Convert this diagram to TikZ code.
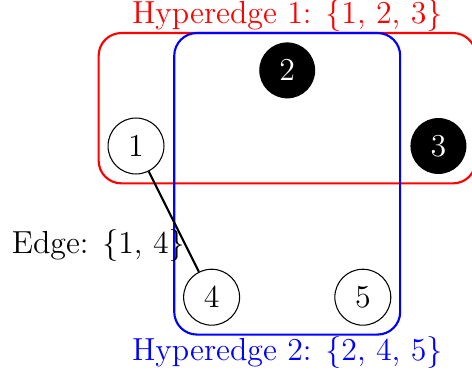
\documentclass[tikz,border=0pt]{standalone}
\usepackage{amsmath,amssymb}
\usepackage{xcolor}
\usepackage{tikz}
\usetikzlibrary{fit}

\begin{document}
\begin{tikzpicture}[font=\large,
  vertex/.style={circle,draw,fill=white,minimum size=0.74cm},
  full/.style={circle,fill=black,text=white,minimum size=0.74cm},
  hyper/.style={rounded corners=0.3cm,thick}]
  \useasboundingbox (-1.799,-2.963) rectangle (4.444,1.931);
  \node[vertex] (v1) at (0,0) {1};
  \node[full] (v2) at (2,1) {2};
  \node[full] (v3) at (4,0) {3};
  \node[vertex] (v4) at (1,-2) {4};
  \node[vertex] (v5) at (3,-2) {5};
  % hyperedges
  \node[hyper,draw=red,fit=(v1)(v2)(v3)] (h1) {};
  \node[red,anchor=south,inner sep=0pt] (h1lab) at (h1.north) {Hyperedge 1: \{1, 2, 3\}};
  \node[hyper,draw=blue,fit=(v2)(v4)(v5)] (h2) {};
  \node[blue,anchor=north,inner sep=0pt] (h2lab) at (h2.south) {Hyperedge 2: \{2, 4, 5\}};
  % simple edge
  \node (elab) at (-0.5,-1.31) {Edge: \{1, 4\}};
  \draw[thick] (v1) -- (v4);
\end{tikzpicture}
\end{document}
